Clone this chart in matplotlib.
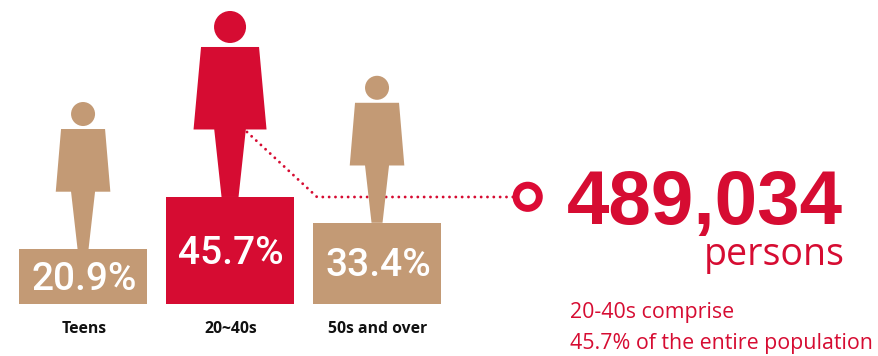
import matplotlib
matplotlib.use("Agg")
import matplotlib.pyplot as plt
from matplotlib.patches import Circle, Polygon
from matplotlib.transforms import Affine2D

# population share by age group
groups = ["Teens", "20~40s", "50s and over"]
shares = [20.9, 45.7, 33.4]
highlight = "20~40s"

total_persons = "489,034"
unit_label = "persons"
note_lines = ["20-40s comprise", "45.7% of the entire population"]

RED = "#D60C32"
TAN = "#C39A75"
WHITE = "#FFFFFF"

plt.rcParams["lines.scale_dashes"] = False

W, H = 879, 356
fig = plt.figure(figsize=(W / 100, H / 100), dpi=100, facecolor="white")
ax = fig.add_axes([0, 0, 1, 1])
ax.axis("off")
ax.set_xlim(-0.565, 5.415)
ax.set_ylim(-30.1, 139.6)

# pixel space, origin top left
px = Affine2D().scale(1, -1).translate(0, H)

colors = [RED if g == highlight else TAN for g in groups]
xs = range(len(groups))
base = -5.34
ax.bar(xs, [s - base for s in shares], bottom=base, width=0.871, color=colors, zorder=3)


def draw_person(cx, top, big, color):
    # outline offsets from the point where the leg meets the bar
    if big:
        head_y, head_r = -170, 16
        sh, hem, leg_t, leg_b, y_sh, y_hem = 29, 36.5, 15.8, 8.5, -150, -67.5
    else:
        head_y, head_r = -135, 12
        sh, hem, leg_t, leg_b, y_sh, y_hem = 22, 27.3, 12, 5.5, -120, -57.3
    ax.add_patch(Circle((cx, top + head_y), head_r, color=color, lw=0, transform=px, zorder=4))
    outline = [(-sh, y_sh), (sh, y_sh), (hem, y_hem), (leg_t, y_hem), (leg_b, 0),
               (-leg_b, 0), (-leg_t, y_hem), (-hem, y_hem)]
    ax.add_patch(Polygon([(cx + a, top + b) for a, b in outline], closed=True,
                         color=color, lw=0, transform=px, zorder=4))


for i, (g, s, c) in enumerate(zip(groups, shares, colors)):
    x_d, y_d = ax.transData.transform((i, s))
    cx, top = x_d, H - y_d
    draw_person(cx, top, g == highlight, c)
    # value in the middle of the bar
    bottom = H - ax.transData.transform((i, base))[1]
    ax.text(cx + 1, (top + bottom) / 2 + 13, f"{s}%", transform=px, ha="center", va="baseline",
            color=WHITE, fontsize=28, family="Roboto", weight="medium", zorder=5)
    ax.text(cx + 1, 333, g, transform=px, ha="center", va="baseline", color="#111111",
            fontsize=11.3, family="Open Sans", weight="bold", zorder=5)

# dotted leader to the total
ax.plot([247, 317, 515], [132, 197, 197], transform=px, color=RED, lw=2.1,
        ls=(0, (0.01, 4.55)), dash_capstyle="round", zorder=2)
ax.add_patch(Circle((527.7, 196.8), 11.6, facecolor="white", edgecolor="#DC0A35", lw=5,
                    transform=px, zorder=4))

ax.text(843, 224, total_persons, transform=px, ha="right", va="baseline", color=RED,
        fontsize=55, family="Liberation Sans", weight="bold")
ax.text(845, 265, unit_label, transform=px, ha="right", va="baseline", color=RED,
        fontsize=27, family="Open Sans")
for y, line in zip([318, 349], note_lines):
    ax.text(570, y, line, transform=px, ha="left", va="baseline", color=RED,
            fontsize=15.4, family="Open Sans")

fig.savefig("out.png", dpi=100)
